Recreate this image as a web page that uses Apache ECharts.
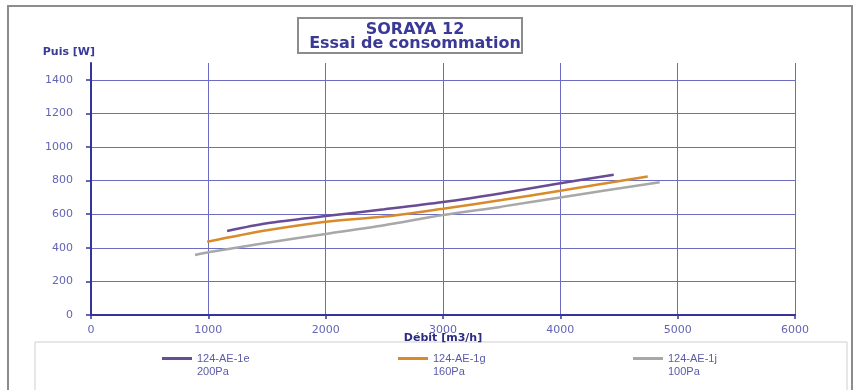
<!DOCTYPE html>
<html>
<head>
<meta charset="utf-8">
<title>SORAYA 12 - Essai de consommation</title>
<script src="https://cdn.jsdelivr.net/npm/echarts@6/dist/echarts.min.js"></script>
<style>
  html, body { margin: 0; padding: 0; background: #ffffff; }
  #chart { width: 858px; height: 390px; }
</style>
</head>
<body>
<div id="chart"></div>
<script>
// Flow rate [m3/h] vs. absorbed power [W], one curve per pressure setting
const series200Pa = [[1160, 500], [1500, 546], [2000, 589], [2500, 629], [3000, 672], [3500, 725], [4000, 784], [4455, 835]];
const series160Pa = [[990, 436], [1500, 504], [2000, 555], [2500, 586], [3000, 633], [3500, 684], [4000, 740], [4745, 825]];
const series100Pa = [[886, 357], [1000, 373], [1500, 430], [2000, 482], [2500, 534], [3000, 595], [3500, 645], [4000, 700], [4847, 790]];

const seriesNames = ['124-AE-1e\n200Pa', '124-AE-1g\n160Pa', '124-AE-1j\n100Pa'];
const xTicks = [0, 1000, 2000, 3000, 4000, 5000, 6000];
const yTicks = [0, 200, 400, 600, 800, 1000, 1200, 1400];

const FONT = 'Liberation Sans, Arial, sans-serif';
const WIDE_FONT = 'DejaVu Sans, Verdana, sans-serif';
const AXIS_BLUE = '#34349a';
const GRID_BLUE = '#6c6cc0';
const LABEL_BLUE = '#6464b4';

// Legend swatch: a short bar sitting level with the first text line
const LEGEND_ICON = 'path://M0,0L0.01,0M0,5H30V8H0ZM0,26L0.01,26';

const chart = echarts.init(document.getElementById('chart'), null, { renderer: 'canvas' });

const legendBase = {
  orient: 'horizontal',
  top: 347,
  icon: LEGEND_ICON,
  itemWidth: 30,
  itemHeight: 26,
  itemGap: 0,
  textStyle: { fontFamily: FONT, fontSize: 11, color: '#5a5aa8', lineHeight: 13 }
};

const plainNumber = v => String(v);

chart.setOption({
  animation: false,
  backgroundColor: '#ffffff',
  title: {
    text: 'SORAYA 12\nEssai de consommation',
    left: 410,
    top: 18,
    textAlign: 'center',
    textStyle: { fontFamily: WIDE_FONT, fontSize: 16, fontWeight: 'bold', color: '#3a3a96', lineHeight: 14 }
  },
  graphic: [
    { type: 'rect', shape: { x: 8, y: 6, width: 844, height: 400 }, style: { fill: 'none', stroke: '#8c8c8c', lineWidth: 2 }, silent: true, z: -1 },
    { type: 'rect', shape: { x: 298, y: 18, width: 224, height: 35 }, style: { fill: 'none', stroke: '#8c8c8c', lineWidth: 2 }, silent: true, z: -1 },
    { type: 'rect', shape: { x: 35, y: 342, width: 812, height: 60 }, style: { fill: 'none', stroke: '#cfcfcf', lineWidth: 1 }, silent: true, z: -1 }
  ],
  legend: [
    Object.assign({}, legendBase, { left: 157, data: [seriesNames[0]] }),
    Object.assign({}, legendBase, { left: 393, data: [seriesNames[1]] }),
    Object.assign({}, legendBase, { left: 628, data: [seriesNames[2]] })
  ],
  grid: { left: 91, top: 63, right: 63, bottom: 75, containLabel: false },
  xAxis: {
    type: 'value',
    min: 0,
    max: 6000,
    interval: 1000,
    name: 'Débit [m3/h]',
    nameLocation: 'middle',
    nameGap: 18,
    nameMoveOverlap: false,
    nameTextStyle: { fontFamily: WIDE_FONT, fontSize: 11, fontWeight: 'bold', color: '#2c2c82' },
    axisLine: { show: true, onZero: false, lineStyle: { color: AXIS_BLUE, width: 2 } },
    axisTick: { show: true, inside: false, length: 4, lineStyle: { color: AXIS_BLUE, width: 1.5 } },
    axisLabel: { margin: 10, fontFamily: WIDE_FONT, fontSize: 11, color: LABEL_BLUE, customValues: xTicks, formatter: plainNumber },
    splitLine: { show: true, lineStyle: { color: GRID_BLUE, width: 1 } }
  },
  yAxis: {
    type: 'value',
    min: 0,
    max: 1500,
    interval: 200,
    name: 'Puis [W]',
    nameLocation: 'end',
    nameGap: 5,
    nameTextStyle: { fontFamily: WIDE_FONT, fontSize: 11, fontWeight: 'bold', color: '#3a3a96', align: 'right', padding: [0, -4, 0, 0] },
    axisLine: { show: true, onZero: false, lineStyle: { color: AXIS_BLUE, width: 2 } },
    axisTick: { show: true, inside: false, length: 5, lineStyle: { color: AXIS_BLUE, width: 1.5 }, customValues: yTicks },
    axisLabel: { margin: 18, fontFamily: WIDE_FONT, fontSize: 11, color: LABEL_BLUE, customValues: yTicks, formatter: plainNumber },
    splitLine: { show: true, lineStyle: { color: GRID_BLUE, width: 1 } }
  },
  series: [
    { name: seriesNames[0], type: 'line', data: series200Pa, smooth: 0.3, symbol: 'none', lineStyle: { color: '#684c94', width: 2.5 }, itemStyle: { color: '#684c94' } },
    { name: seriesNames[1], type: 'line', data: series160Pa, smooth: 0.3, symbol: 'none', lineStyle: { color: '#d98b2b', width: 2.5 }, itemStyle: { color: '#d98b2b' } },
    { name: seriesNames[2], type: 'line', data: series100Pa, smooth: 0.3, symbol: 'none', lineStyle: { color: '#a8a8a8', width: 2.5 }, itemStyle: { color: '#a8a8a8' } }
  ]
});
</script>
</body>
</html>
